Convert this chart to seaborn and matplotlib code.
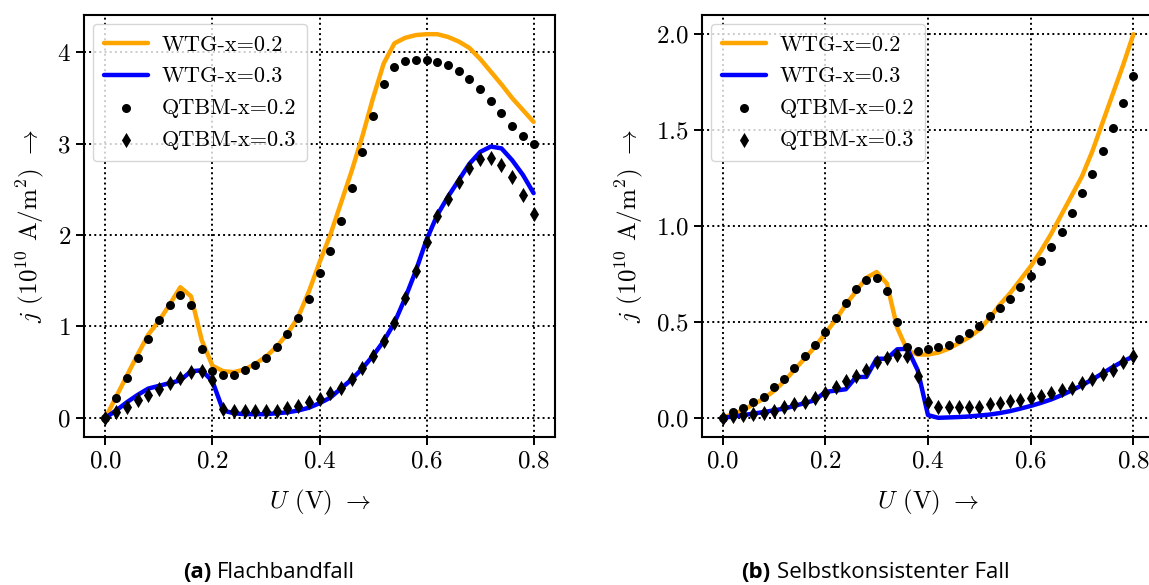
import numpy as np
import matplotlib
matplotlib.use("Agg")
import matplotlib.pyplot as plt
import seaborn as sns

# Spannung U (V)
u = [0.00, 0.02, 0.04, 0.06, 0.08, 0.10, 0.12, 0.14, 0.16, 0.18,
     0.20, 0.22, 0.24, 0.26, 0.28, 0.30, 0.32, 0.34, 0.36, 0.38,
     0.40, 0.42, 0.44, 0.46, 0.48, 0.50, 0.52, 0.54, 0.56, 0.58,
     0.60, 0.62, 0.64, 0.66, 0.68, 0.70, 0.72, 0.74, 0.76, 0.78, 0.80]

# (a) Flachbandfall
wtg02_a = [0.00, 0.23, 0.46, 0.69, 0.91, 1.06, 1.24, 1.43, 1.33, 0.85,
           0.57, 0.51, 0.50, 0.53, 0.59, 0.67, 0.78, 0.92, 1.10, 1.38,
           1.70, 2.00, 2.35, 2.70, 3.08, 3.50, 3.88, 4.10, 4.16, 4.19,
           4.20, 4.20, 4.17, 4.12, 4.05, 3.93, 3.79, 3.65, 3.50, 3.37, 3.24]
wtg03_a = [0.00, 0.08, 0.17, 0.25, 0.32, 0.35, 0.38, 0.41, 0.51, 0.52,
           0.40, 0.08, 0.05, 0.04, 0.04, 0.04, 0.05, 0.06, 0.08, 0.11,
           0.16, 0.22, 0.32, 0.42, 0.54, 0.68, 0.84, 1.04, 1.31, 1.61,
           1.95, 2.22, 2.42, 2.60, 2.78, 2.91, 2.97, 2.95, 2.82, 2.66, 2.46]
qtbm02_a = [0.00, 0.22, 0.44, 0.65, 0.86, 1.07, 1.24, 1.34, 1.24, 0.75,
            0.51, 0.47, 0.47, 0.52, 0.58, 0.66, 0.78, 0.92, 1.09, 1.30,
            1.58, 1.83, 2.16, 2.52, 2.91, 3.30, 3.65, 3.84, 3.91, 3.92,
            3.92, 3.90, 3.86, 3.80, 3.71, 3.60, 3.47, 3.34, 3.20, 3.09, 3.00]
qtbm03_a = [0.00, 0.06, 0.12, 0.19, 0.25, 0.32, 0.38, 0.44, 0.50, 0.51,
            0.41, 0.10, 0.07, 0.07, 0.07, 0.07, 0.08, 0.11, 0.13, 0.17,
            0.21, 0.27, 0.33, 0.42, 0.54, 0.68, 0.84, 1.04, 1.31, 1.61,
            1.93, 2.21, 2.40, 2.58, 2.74, 2.83, 2.84, 2.77, 2.64, 2.44, 2.23]

# (b) Selbstkonsistenter Fall
wtg02_b = [0.00, 0.02, 0.04, 0.07, 0.10, 0.14, 0.19, 0.25, 0.31, 0.37,
           0.44, 0.51, 0.59, 0.66, 0.73, 0.76, 0.70, 0.47, 0.35, 0.33,
           0.33, 0.34, 0.36, 0.39, 0.42, 0.46, 0.52, 0.59, 0.65, 0.72,
           0.79, 0.87, 0.96, 1.06, 1.16, 1.26, 1.39, 1.54, 1.69, 1.84, 2.00]
wtg03_b = [0.000, 0.007, 0.014, 0.022, 0.030, 0.039, 0.048, 0.062, 0.077, 0.092,
           0.135, 0.142, 0.149, 0.213, 0.213, 0.308, 0.308, 0.357, 0.360, 0.248,
           0.014, 0.000, 0.002, 0.004, 0.007, 0.012, 0.017, 0.025, 0.035, 0.048,
           0.062, 0.078, 0.096, 0.118, 0.143, 0.170, 0.200, 0.232, 0.265, 0.295, 0.320]
qtbm02_b = [0.00, 0.03, 0.05, 0.08, 0.11, 0.16, 0.20, 0.26, 0.32, 0.38,
            0.45, 0.52, 0.60, 0.67, 0.72, 0.73, 0.66, 0.50, 0.37, 0.35,
            0.36, 0.37, 0.38, 0.41, 0.44, 0.48, 0.53, 0.57, 0.62, 0.68,
            0.74, 0.82, 0.89, 0.97, 1.07, 1.17, 1.27, 1.39, 1.51, 1.64, 1.78]
qtbm03_b = [0.000, 0.010, 0.014, 0.020, 0.025, 0.035, 0.055, 0.070, 0.083, 0.105,
            0.130, 0.160, 0.190, 0.220, 0.250, 0.290, 0.310, 0.330, 0.320, 0.220,
            0.085, 0.055, 0.055, 0.055, 0.056, 0.058, 0.074, 0.079, 0.087, 0.092,
            0.104, 0.114, 0.130, 0.144, 0.158, 0.180, 0.200, 0.227, 0.250, 0.290, 0.320]

sns.set_style("ticks")
plt.rcParams.update({
    "font.family": "serif",
    "font.serif": ["cmr10"],
    "mathtext.fontset": "cm",
    "axes.formatter.use_mathtext": True,
    "axes.unicode_minus": False,
    "axes.edgecolor": "black",
    "axes.labelcolor": "black",
    "text.color": "black",
    "axes.linewidth": 1.5,
})

W, H = 1149, 585
fig = plt.figure(figsize=(W / 100, H / 100), dpi=100)
ax_a = fig.add_axes([84 / W, 1 - 437 / H, 471 / W, 422 / H])
ax_b = fig.add_axes([702 / W, 1 - 437 / H, 452 / W, 422 / H])


def draw(ax, wtg02, wtg03, q02, q03, yticks):
    sns.lineplot(x=u, y=wtg02, color="orange", lw=3.2, label="WTG-x=0.2", ax=ax)
    sns.lineplot(x=u, y=wtg03, color="blue", lw=3.2, label="WTG-x=0.3", ax=ax)
    sns.scatterplot(x=u, y=q02, color="black", marker="o", s=42, linewidth=0,
                    label="QTBM-x=0.2", ax=ax, zorder=3)
    sns.scatterplot(x=u, y=q03, color="black", marker="d", s=60, linewidth=0,
                    label="QTBM-x=0.3", ax=ax, zorder=3)
    ax.set_xticks([0.0, 0.2, 0.4, 0.6, 0.8])
    ax.set_yticks(yticks)
    ax.grid(True, color="black", linestyle=":", linewidth=1.4)
    ax.set_axisbelow(True)
    ax.tick_params(direction="out", length=6, width=1.4, color="black",
                   labelsize=18, labelcolor="black")
    ax.set_xlabel(r"$U$ (V) $\rightarrow$", fontsize=18, labelpad=11)
    ax.set_ylabel(r"$j$ ($10^{10}$ A/m$^2$) $\rightarrow$", fontsize=18, labelpad=8)
    ax.legend(loc="upper left", fontsize=16, handlelength=2.0, handletextpad=0.6,
              borderaxespad=0.4, labelspacing=0.55, borderpad=0.5)


draw(ax_a, wtg02_a, wtg03_a, qtbm02_a, qtbm03_a, [0, 1, 2, 3, 4])
draw(ax_b, wtg02_b, wtg03_b, qtbm02_b, qtbm03_b, [0.0, 0.5, 1.0, 1.5, 2.0])

cap = dict(family="Open Sans", fontsize=16, va="center", color="black")
fig.text(211 / W, 1 - 572 / H, "(a)", ha="right", fontweight="bold", **cap)
fig.text(217 / W, 1 - 572 / H, "Flachbandfall", ha="left", **cap)
fig.text(770 / W, 1 - 572 / H, "(b)", ha="right", fontweight="bold", **cap)
fig.text(777 / W, 1 - 572 / H, "Selbstkonsistenter Fall", ha="left", **cap)

fig.savefig("out.png", dpi=100)
